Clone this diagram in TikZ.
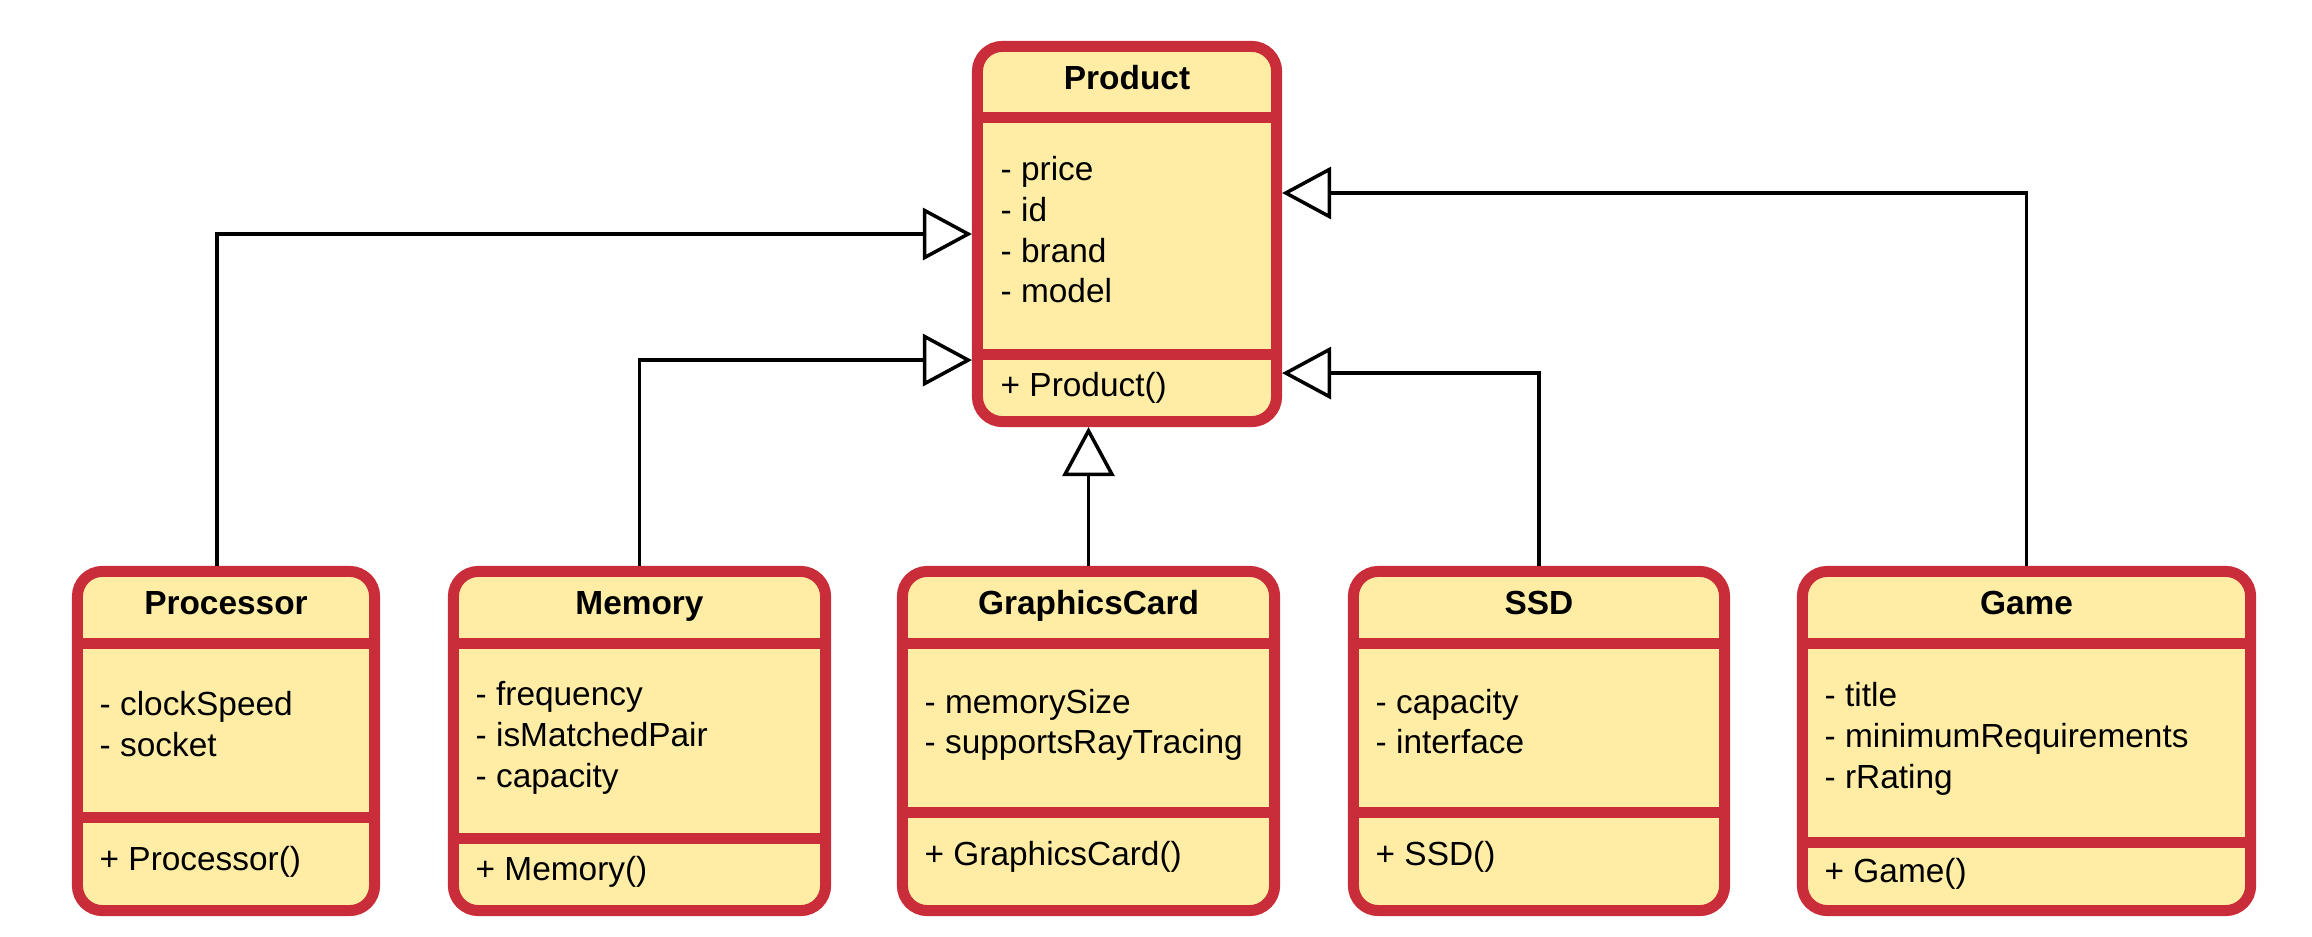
\documentclass[tikz,border=0pt]{standalone}
\usepackage{fontspec}
\setmainfont{Liberation Sans}
\usetikzlibrary{arrows.meta}
\definecolor{bordure}{HTML}{C92D39}
\definecolor{fond}{HTML}{FFEDA6}
\newcommand\taille{\fontsize{9.5}{11}\selectfont}

\tikzset{
  classe/.style={draw=bordure, fill=fond, line width=0.11cm, rounded corners=0.25cm, inner sep=0pt},
  sep/.style={draw=bordure, line width=0.11cm},
  titre/.style={font=\taille\bfseries, anchor=base, inner sep=0pt},
  attr/.style={font=\taille, anchor=base west, inner sep=0pt},
  herit/.style={line width=0.035cm, -{Triangle[length=0.49cm, width=0.52cm, fill=white]}}
}

\begin{document}
\begin{tikzpicture}[x=0.01cm, y=-0.01cm]
  \useasboundingbox (0,0) rectangle (2312,936);

  % Classe mere
  \node[classe, minimum width=2.99cm, minimum height=3.75cm] (product) at (1127,234) {};
  \draw[sep] (product.west |- 0,117) -- (product.east |- 0,117);
  \draw[sep] (product.west |- 0,354) -- (product.east |- 0,354);
  \node[titre] (tproduct) at (1127,89) {Product};
  \node[attr] (aproduct1) at (1000,180) {- price};
  \node[attr] (aproduct2) at (1000,221) {- id};
  \node[attr] (aproduct3) at (1000,262) {- brand};
  \node[attr] (aproduct4) at (1000,302) {- model};
  \node[attr] (mproduct) at (1000,396) {+ Product()};

  % Processor
  \node[classe, minimum width=2.97cm, minimum height=3.39cm] (processor) at (226,741) {};
  \draw[sep] (processor.west |- 0,643) -- (processor.east |- 0,643);
  \draw[sep] (processor.west |- 0,817) -- (processor.east |- 0,817);
  \node[titre] (tprocessor) at (226,614) {Processor};
  \node[attr] (aprocessor1) at (99,715) {- clockSpeed};
  \node[attr] (aprocessor2) at (99,756) {- socket};
  \node[attr] (mprocessor) at (99,870) {+ Processor()};

  % Memory
  \node[classe, minimum width=3.72cm, minimum height=3.39cm] (memory) at (639.5,741) {};
  \draw[sep] (memory.west |- 0,643) -- (memory.east |- 0,643);
  \draw[sep] (memory.west |- 0,838) -- (memory.east |- 0,838);
  \node[titre] (tmemory) at (639.5,614) {Memory};
  \node[attr] (amemory1) at (475,705) {- frequency};
  \node[attr] (amemory2) at (475,746) {- isMatchedPair};
  \node[attr] (amemory3) at (475,787) {- capacity};
  \node[attr] (mmemory) at (475,880) {+ Memory()};

  % GraphicsCard
  \node[classe, minimum width=3.72cm, minimum height=3.39cm] (carte) at (1088.5,741) {};
  \draw[sep] (carte.west |- 0,643) -- (carte.east |- 0,643);
  \draw[sep] (carte.west |- 0,812) -- (carte.east |- 0,812);
  \node[titre] (tcarte) at (1088.5,614) {GraphicsCard};
  \node[attr] (acarte1) at (924,713) {- memorySize};
  \node[attr] (acarte2) at (924,753) {- supportsRayTracing};
  \node[attr] (mcarte) at (924,865) {+ GraphicsCard()};

  % SSD
  \node[classe, minimum width=3.71cm, minimum height=3.39cm] (ssd) at (1539,741) {};
  \draw[sep] (ssd.west |- 0,643) -- (ssd.east |- 0,643);
  \draw[sep] (ssd.west |- 0,812) -- (ssd.east |- 0,812);
  \node[titre] (tssd) at (1539,614) {SSD};
  \node[attr] (assd1) at (1375,713) {- capacity};
  \node[attr] (assd2) at (1375,753) {- interface};
  \node[attr] (mssd) at (1375,865) {+ SSD()};

  % Game
  \node[classe, minimum width=4.48cm, minimum height=3.39cm] (jeu) at (2026.5,741) {};
  \draw[sep] (jeu.west |- 0,643) -- (jeu.east |- 0,643);
  \draw[sep] (jeu.west |- 0,842) -- (jeu.east |- 0,842);
  \node[titre] (tjeu) at (2026.5,614) {Game};
  \node[attr] (ajeu1) at (1824,706) {- title};
  \node[attr] (ajeu2) at (1824,747) {- minimumRequirements};
  \node[attr] (ajeu3) at (1824,788) {- rRating};
  \node[attr] (mjeu) at (1824,882) {+ Game()};

  % Heritage
  \draw[herit] ([xshift=-0.09cm]processor.north) |- (product.west);
  \draw[herit] (memory.north) |- ([yshift=-1.26cm]product.west);
  \draw[herit] (carte.north) -- (carte.north |- product.south);
  \draw[herit] (ssd.north) |- ([yshift=-1.39cm]product.east);
  \draw[herit] (jeu.north) |- ([yshift=0.41cm]product.east);
\end{tikzpicture}
\end{document}
